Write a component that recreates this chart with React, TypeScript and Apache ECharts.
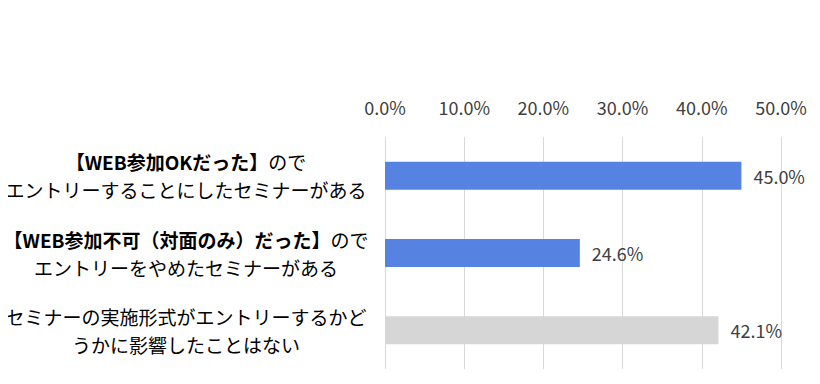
import React, { useEffect, useRef } from "react";
import * as echarts from "echarts";

const categories = [
  "{b|【WEB参加OKだった】}{n|ので}\n{n|エントリーすることにしたセミナーがある}",
  "{b|【WEB参加不可（対面のみ）だった】}{n|ので}\n{n|エントリーをやめたセミナーがある}",
  "{n|セミナーの実施形式がエントリーするかど}\n{n|うかに影響したことはない}",
];
const values = [45.0, 24.6, 42.1];
const barColors = ["#5683e2", "#5683e2", "#d6d6d6"];
const xTicks = { min: 0, max: 50, interval: 10 };

const JP = '"Noto Sans CJK JP", "Noto Sans", sans-serif';

export default function App() {
  const ref = useRef<HTMLDivElement>(null);
  useEffect(() => {
    if (!ref.current) return;
    const chart = echarts.init(ref.current, undefined, { renderer: "svg" });
    chart.setOption({
      animation: false,
      backgroundColor: "#ffffff",
      grid: { left: 385, right: 39, top: 137, bottom: 15, containLabel: false, outerBoundsMode: "none" },
      xAxis: {
        type: "value",
        position: "top",
        min: xTicks.min,
        max: xTicks.max,
        interval: xTicks.interval,
        axisLine: { show: false },
        axisTick: { show: false },
        splitLine: { lineStyle: { color: "#d9d9d9", width: 1 } },
        axisLabel: {
          margin: 21,
          fontSize: 18,
          color: "#404040",
          fontFamily: JP,
          formatter: (v: number) => v.toFixed(1) + "%",
        },
      },
      yAxis: {
        type: "category",
        inverse: true,
        data: categories,
        axisLine: { show: false },
        axisTick: { show: false },
        axisLabel: {
          margin: 199,
          align: "center",
          formatter: (v: string) => v,
          rich: {
            b: { fontSize: 19, fontWeight: "bold", color: "#000", fontFamily: JP, lineHeight: 28 },
            n: { fontSize: 19, color: "#000", fontFamily: JP, lineHeight: 28 },
          },
        },
      },
      series: [
        {
          type: "bar",
          barWidth: 28,
          data: values.map((v, i) => ({ value: v, itemStyle: { color: barColors[i] } })),
          label: {
            show: true,
            position: "right",
            distance: 12,
            fontSize: 18,
            color: "#404040",
            fontFamily: JP,
            formatter: (p: any) => Number(p.value).toFixed(1) + "%",
          },
        },
      ],
    });
    return () => chart.dispose();
  }, []);
  return <div ref={ref} style={{ width: 820, height: 384, margin: "-8px 0 0 -8px" }} />;
}
